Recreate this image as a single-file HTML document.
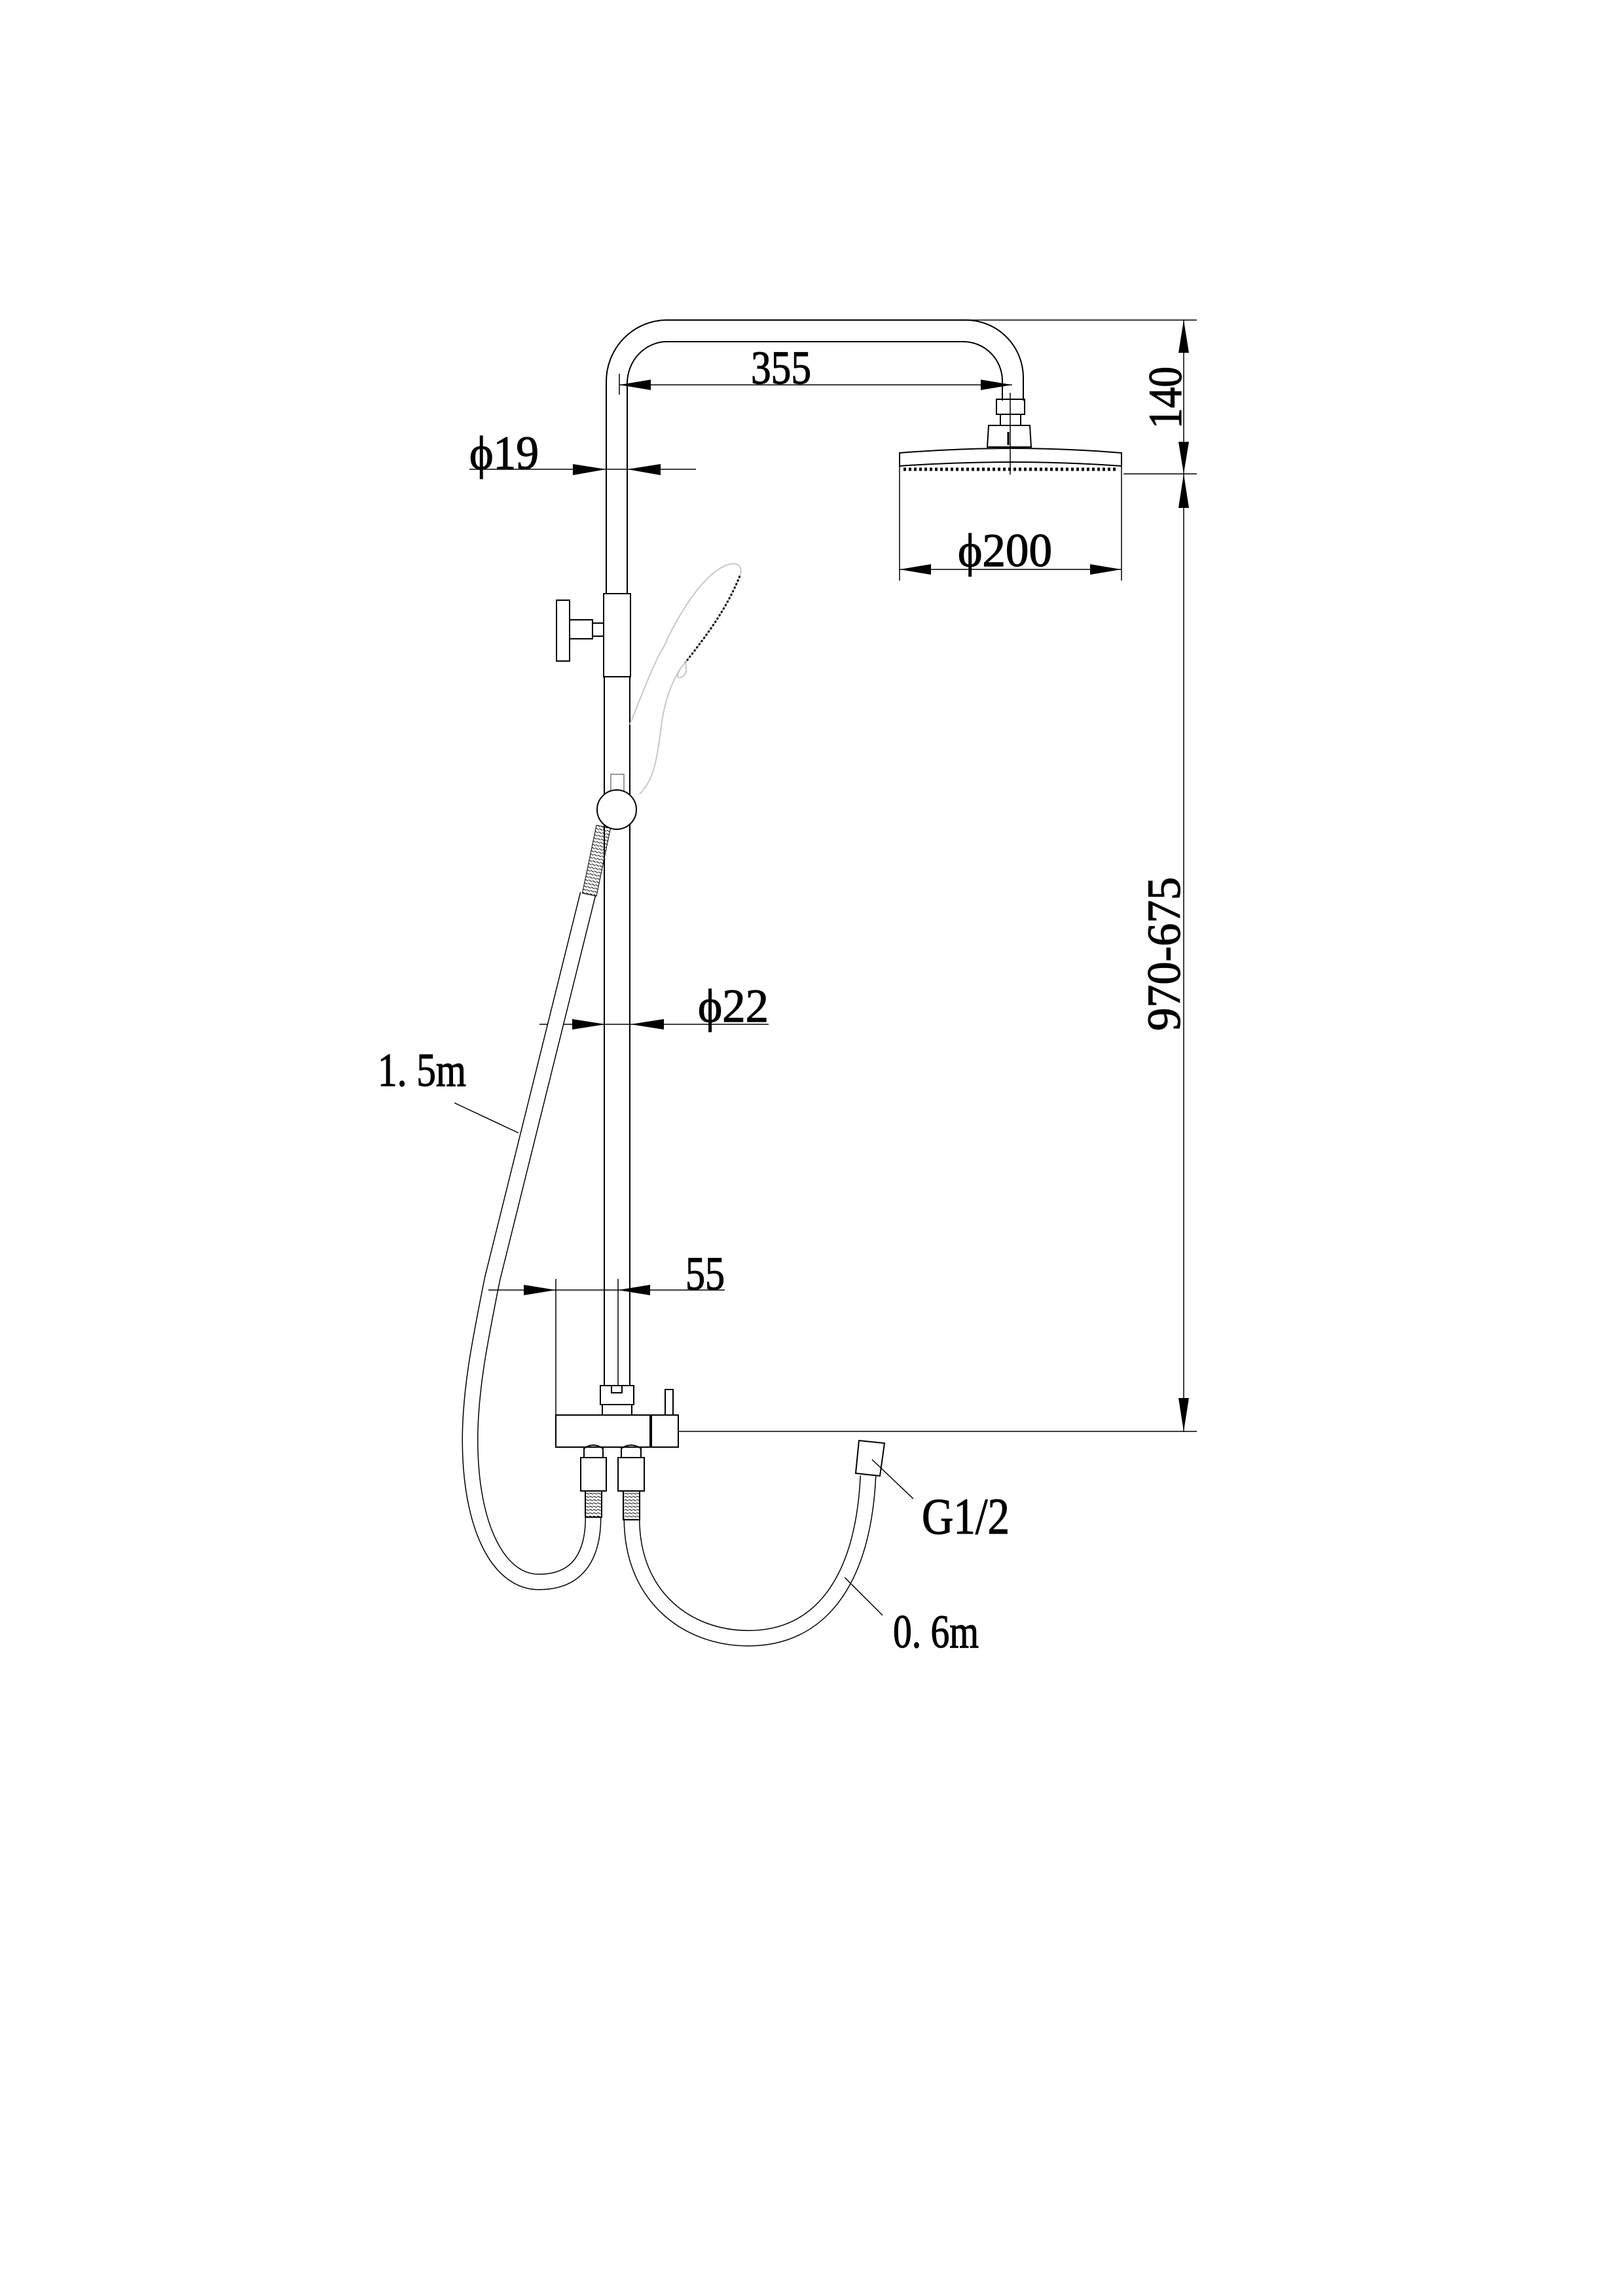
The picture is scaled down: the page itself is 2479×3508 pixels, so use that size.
<!DOCTYPE html>
<html><head><meta charset="utf-8"><style>
html,body{margin:0;padding:0;background:#fff;}
svg{display:block;}
text{font-family:"Liberation Serif","DejaVu Serif",serif;fill:#000;stroke:#000;stroke-width:1.2px;}
</style></head><body>
<svg width="2479" height="3508" viewBox="0 0 2479 3508" xmlns="http://www.w3.org/2000/svg">
<defs>
<pattern id="coil" width="6" height="5" patternUnits="userSpaceOnUse">
<line x1="0" y1="1" x2="6" y2="3" stroke="#000" stroke-width="1"/>
</pattern>
</defs>
<g fill="none" stroke="#000" stroke-width="2">
<path d="M926,907 L926,583 A93,94 0 0 1 1019,489 L1475,489 A88,88 0 0 1 1563,577 L1563,612"/>
<path d="M958,907 L958,586 A61,64 0 0 1 1019,522 L1471,522 A60,60 0 0 1 1531,582 L1531,612"/>
<rect x="1522" y="610" width="43" height="23"/>
<path d="M1528,633 L1528,650 M1559,633 L1559,650"/>
<path d="M1510,650 L1573,650 L1575,683 L1508,683 Z"/>
<line x1="1543" y1="600" x2="1543" y2="725" stroke-width="1.5"/>
<line x1="1540" y1="660" x2="1540" y2="680" stroke-width="3"/>
<path d="M1374,692 Q1545,678 1713,692 L1713,712 Q1545,700 1374,712 Z"/>
<line x1="1380" y1="717" x2="1708" y2="717" stroke-width="5" stroke-dasharray="4,4"/>
<line x1="1475" y1="489" x2="1828" y2="489" stroke-width="1.5"/>
<line x1="1716" y1="724" x2="1828" y2="724" stroke-width="1.5"/>
<line x1="1808" y1="489" x2="1808" y2="2188" stroke-width="1.5"/>
<line x1="1036" y1="2187" x2="1828" y2="2187" stroke-width="1.5"/>
<line x1="946" y1="588" x2="1546" y2="588" stroke-width="1.5"/>
<line x1="946" y1="571" x2="946" y2="603" stroke-width="1.5"/>
<line x1="717" y1="717" x2="1063" y2="717" stroke-width="1.5"/>
<line x1="1374" y1="712" x2="1374" y2="887" stroke-width="1.5"/>
<line x1="1713" y1="712" x2="1713" y2="887" stroke-width="1.5"/>
<line x1="1374" y1="870" x2="1713" y2="870" stroke-width="1.5"/>
<rect x="922" y="907" width="41" height="127"/>
<rect x="850" y="917" width="20" height="93"/>
<rect x="870" y="947" width="35" height="29"/>
<rect x="905" y="952" width="17" height="20"/>
<line x1="923" y1="1034" x2="923" y2="2117"/>
<line x1="962" y1="1034" x2="962" y2="2117"/>
<line x1="944" y1="1954" x2="944" y2="2117" stroke-width="1.5"/>
<path d="M962,1107 C985,1050 1000,1010 1013,990 C1040,930 1080,870 1115,862 C1132,858 1134,872 1130,880 C1110,930 1080,970 1047,1012 C1035,1025 1030,1040 1042,1034 C1050,1030 1048,1020 1047,1012 M1040,1020 C1025,1045 1015,1070 1010,1110 C1003,1160 1000,1190 977,1213" stroke="#c8c8c8" stroke-width="2"/>
<path d="M1130,880 C1110,930 1080,970 1047,1012" stroke="#000" stroke-width="3" stroke-dasharray="3,3"/>
<rect x="933" y="1183" width="20" height="40" fill="#fff" stroke="#999"/>
<circle cx="942" cy="1237" r="30" fill="#fff"/>
<line x1="824" y1="1565" x2="1174" y2="1565" stroke-width="1.5"/>
<path d="M898,1366 L752,1954 C735,2040 718,2120 718,2200 C718,2330 760,2417 823,2417 C888,2417 906,2370 906,2318" stroke="#000" stroke-width="25"/>
<path d="M898,1366 L752,1954 C735,2040 718,2120 718,2200 C718,2330 760,2417 823,2417 C888,2417 906,2370 906,2318" stroke="#fff" stroke-width="22"/>
<line x1="694" y1="1685" x2="792" y2="1731" stroke-width="1.5"/>
<path d="M965,2320 C965,2440 1050,2503 1143,2503 C1250,2503 1318,2420 1326,2255" stroke="#000" stroke-width="25"/>
<path d="M965,2320 C965,2440 1050,2503 1143,2503 C1250,2503 1318,2420 1326,2255" stroke="#fff" stroke-width="22"/>
<polygon points="1312,2201 1351,2205 1344,2255 1307,2251" fill="#fff"/>
<line x1="1332" y1="2230" x2="1395" y2="2290" stroke-width="1.5"/>
<line x1="1290" y1="2410" x2="1348" y2="2468" stroke-width="1.5"/>
<line x1="746" y1="1971" x2="1107" y2="1971" stroke-width="1.5"/>
<line x1="849" y1="1954" x2="849" y2="2162" stroke-width="1.5"/>
<rect x="917" y="2117" width="51" height="29" fill="#fff"/>
<rect x="934" y="2117" width="16" height="11"/>
<path d="M920,2146 L920,2162 Q935,2174 942,2174 Q950,2174 965,2162 L965,2146"/>
<rect x="849" y="2162" width="145" height="49" fill="#fff"/>
<rect x="994" y="2162" width="42" height="49" fill="#fff"/>
<line x1="994" y1="2162" x2="994" y2="2211" stroke-width="4"/>
<rect x="1016" y="2123" width="12" height="39"/>
<path d="M892,2227 L892,2213 Q906,2203 921,2213 L921,2227"/>
<path d="M949,2227 L949,2213 Q964,2203 979,2213 L979,2227"/>
<rect x="887" y="2227" width="39" height="51" fill="#fff"/>
<rect x="944" y="2227" width="40" height="51" fill="#fff"/>
<rect x="894" y="2278" width="25" height="40" fill="url(#coil)"/>
<rect x="952" y="2278" width="25" height="44" fill="url(#coil)"/>
<g transform="translate(911,1315) rotate(11.7)">
<rect x="-11" y="-53" width="22" height="106" fill="url(#coil)" stroke-width="1"/>
</g>
</g>
<g fill="#000">
<polygon points="946,588 994,580 994,596"/>
<polygon points="1546,588 1498,580 1498,596"/>
<polygon points="926,717 875,709 875,726"/>
<polygon points="958,717 1009,709 1009,726"/>
<polygon points="1374,870 1422,862 1422,878"/>
<polygon points="1713,870 1665,862 1665,878"/>
<polygon points="1808,489 1800,539 1816,539"/>
<polygon points="1808,724 1800,675 1816,675"/>
<polygon points="1808,724 1800,776 1816,776"/>
<polygon points="1808,2187 1800,2136 1816,2136"/>
<polygon points="925,1565 874,1557 874,1573"/>
<polygon points="963,1565 1014,1557 1014,1573"/>
<polygon points="849,1971 800,1963 800,1979"/>
<polygon points="944,1971 993,1963 993,1979"/>
</g>
<text x="1147" y="586" font-size="72" textLength="92" lengthAdjust="spacingAndGlyphs">355</text>
<text x="717" y="716" font-size="72" textLength="106" lengthAdjust="spacingAndGlyphs">ϕ19</text>
<text x="1463" y="865" font-size="72" textLength="144" lengthAdjust="spacingAndGlyphs">ϕ200</text>
<text x="1066" y="1561" font-size="72" textLength="108" lengthAdjust="spacingAndGlyphs">ϕ22</text>
<text x="1047" y="1970" font-size="72" textLength="60" lengthAdjust="spacingAndGlyphs">55</text>
<text x="577" y="1659" font-size="72" textLength="135" lengthAdjust="spacingAndGlyphs">1. 5m</text>
<text x="1408" y="2343" font-size="78" textLength="134" lengthAdjust="spacingAndGlyphs">G1/2</text>
<text x="1364" y="2517" font-size="72" textLength="131" lengthAdjust="spacingAndGlyphs">0. 6m</text>
<text transform="translate(1804,655) rotate(-90)" font-size="72" textLength="95" lengthAdjust="spacingAndGlyphs">140</text>
<text transform="translate(1802,1575) rotate(-90)" font-size="72" textLength="235" lengthAdjust="spacingAndGlyphs">970-675</text>
</svg>
</body></html>
